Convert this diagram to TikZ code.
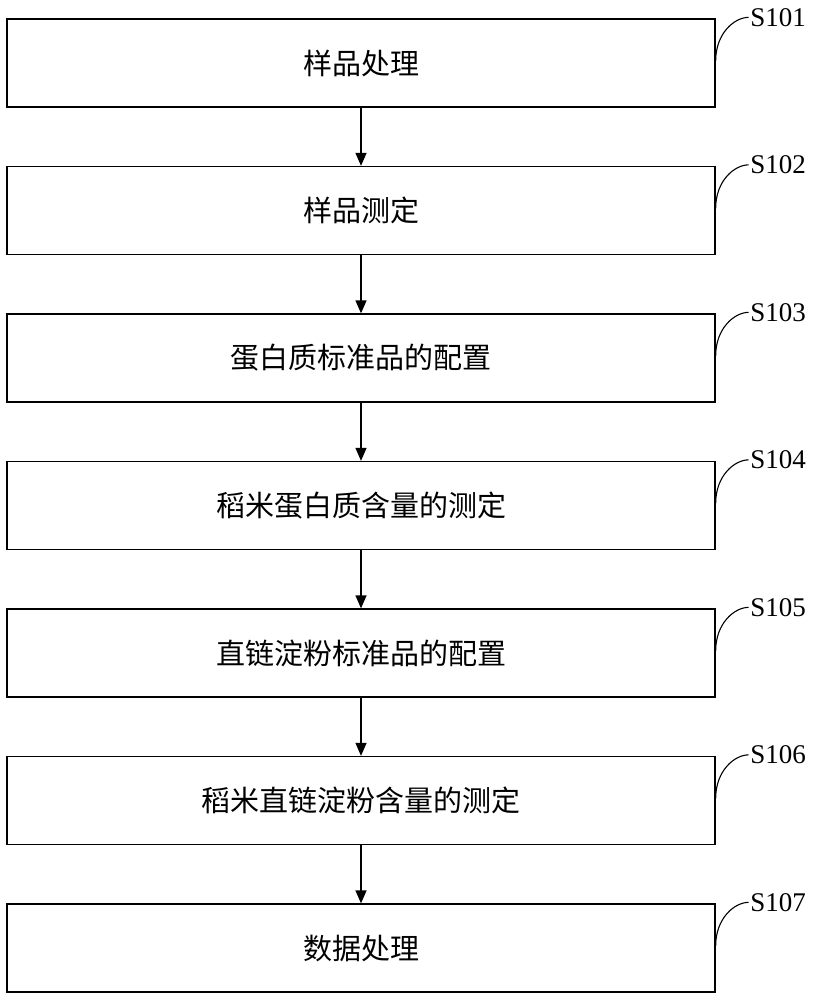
\documentclass[tikz,border=0pt]{standalone}
\usepackage{fontspec}
\setmainfont{Liberation Serif}
\newfontfamily\cjk{Noto Sans CJK SC}
\usetikzlibrary{arrows.meta}

\begin{document}
\begin{tikzpicture}[x=1pt, y=1pt, line width=1.3pt,
    stepbox/.style = {draw, minimum width=708pt, minimum height=88pt, inner sep=0pt,
                      font=\cjk\fontsize{29}{32}\selectfont},
    steplabel/.style = {anchor=west, inner sep=1pt, font=\fontsize{27}{30}\selectfont},
    flow/.style = {-{Triangle[width=11pt, length=13pt]}}]
    % Page frame
    \useasboundingbox (0,0) rectangle (816,-1000);

    % Draw the step boxes
    \foreach \i/\txt in {1/样品处理, 2/样品测定, 3/蛋白质标准品的配置, 4/稻米蛋白质含量的测定,
                         5/直链淀粉标准品的配置, 6/稻米直链淀粉含量的测定, 7/数据处理} {
        \node[stepbox] (b\i) at (361, {-63-147.5*(\i-1)}) {\txt};
        % Label with its hook
        \node[steplabel] (l\i) at ([xshift=33pt, yshift=1pt]b\i.north east) {S10\i};
        \draw[line width=1.1pt] ([yshift=2pt]b\i.east) .. controls +(0,28) and +(-14,0) .. (l\i.west);
    }

    % Connect the steps
    \foreach \i [evaluate=\i as \j using int(\i+1)] in {1,...,6}
        \draw[flow] (b\i) -- (b\j);
\end{tikzpicture}
\end{document}
